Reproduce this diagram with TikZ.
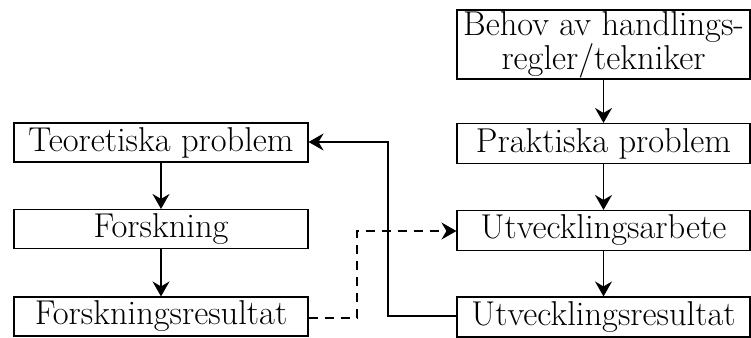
\documentclass[tikz,border=0pt]{standalone}
\usetikzlibrary{arrows.meta}
\begin{document}
\begin{tikzpicture}[x=1pt,y=-1pt,
  box/.style={draw, line width=1.1pt, inner sep=0pt, align=center,
    font=\fontsize{34.5}{30}\selectfont},
  lbox/.style={box, minimum width=294pt, minimum height=39pt},
  rbox/.style={box, minimum width=293pt, minimum height=40pt},
  arr/.style={line width=1.5pt, -{Stealth[length=15pt,width=17pt,inset=5pt]}},
  darr/.style={arr, dash pattern=on 9pt off 7pt}]
\useasboundingbox (0,0) rectangle (751,337);
\node[lbox] (teo) at (161,142.5) {Teoretiska problem};
\node[lbox] (fors) at (161,229) {Forskning};
\node[lbox] (fres) at (161,316.5) {Forskningsresultat};
\node[rbox, minimum height=69pt] (beh) at (603.5,44.5) {Behov av handlings-\\regler/tekniker};
\node[rbox] (prak) at (603.5,143.5) {Praktiska problem};
\node[rbox] (uarb) at (603.5,230.5) {Utvecklingsarbete};
\node[rbox] (ures) at (603.5,317) {Utvecklingsresultat};
\coordinate (c1) at (388,316);
\coordinate (c2) at (388,142);
\coordinate (d1) at (357,318);
\coordinate (d2) at (357,231);
\draw[arr] (teo) -- (fors);
\draw[arr] (fors) -- (fres);
\draw[arr] (beh) -- (prak);
\draw[arr] (prak) -- (uarb);
\draw[arr] (uarb) -- (ures);
\draw[arr] (ures.west |- c1) -- (c1) -- (c2) -- (teo.east |- c2);
\draw[darr] (fres.east |- d1) -- (d1) -- (d2) -- (uarb.west |- d2);
\end{tikzpicture}
\end{document}
